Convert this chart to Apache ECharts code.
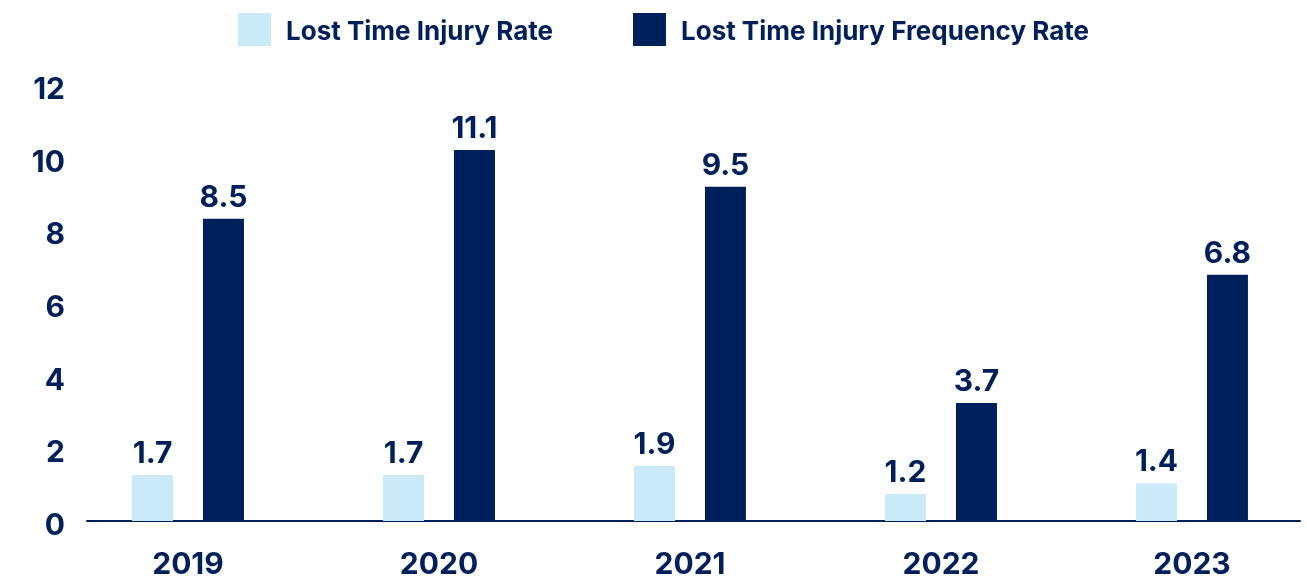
<!DOCTYPE html>
<html>
<head>
<meta charset="utf-8">
<script src="https://cdn.jsdelivr.net/npm/echarts@6/dist/echarts.min.js"></script>
<style>
html,body{margin:0;padding:0;background:#fff;}
#chart{width:1307px;height:582px;}
</style>
</head>
<body>
<div id="chart"></div>
<script>
// Categories
const years = ['2019', '2020', '2021', '2022', '2023'];
// Series names
const seriesNames = ['Lost Time Injury Rate', 'Lost Time Injury Frequency Rate'];
// Printed values (data labels)
const ltirLabels = [1.7, 1.7, 1.9, 1.2, 1.4];
const ltifrLabels = [8.5, 11.1, 9.5, 3.7, 6.8];
// Bar heights as drawn in the reference (read against the y axis)
const ltirHeights = [1.26, 1.26, 1.51, 0.74, 1.04];
const ltifrHeights = [8.3, 10.19, 9.18, 3.24, 6.76];
// Y axis ticks
const yTicks = [0, 2, 4, 6, 8, 10, 12];

const NAVY = '#00205B';
const LIGHT = '#CBEAF7';
const FONT = 'Inter';

const chart = echarts.init(document.getElementById('chart'), null, {renderer: 'canvas'});

function labelFor(arr) {
  return {
    show: true,
    position: 'top',
    distance: 6,
    color: NAVY,
    fontFamily: FONT,
    fontWeight: 700,
    fontSize: 30,
    formatter: p => arr[p.dataIndex].toFixed(1)
  };
}

chart.setOption({
  animation: false,
  backgroundColor: '#ffffff',
  legend: {
    left: 238,
    top: 13,
    padding: 0,
    itemWidth: 33,
    itemHeight: 33,
    itemGap: 80,
    icon: 'rect',
    formatter: name => '{t|' + name + '}',
    textStyle: {
      color: NAVY,
      fontFamily: FONT,
      fontWeight: 700,
      fontSize: 26,
      rich: {
        t: {
          color: NAVY,
          fontFamily: FONT,
          fontWeight: 700,
          fontSize: 26,
          padding: [6, 0, 0, 10]
        }
      }
    },
    data: seriesNames
  },
  grid: [
    {left: 188, right: 115, top: 84, bottom: 61},
    {left: 87, right: 7, top: 84, bottom: 61},
    {left: 87, right: 7, top: 90, bottom: 56}
  ],
  xAxis: [
    {
      gridIndex: 0,
      type: 'category',
      data: years,
      boundaryGap: false,
      axisLine: {show: false},
      axisTick: {show: false},
      axisLabel: {
        color: NAVY,
        fontFamily: FONT,
        fontWeight: 700,
        fontSize: 30,
        lineHeight: 30,
        margin: 29
      }
    },
    {
      gridIndex: 1,
      type: 'category',
      data: years,
      axisLine: {show: true, lineStyle: {color: NAVY, width: 2}},
      axisTick: {show: false},
      axisLabel: {show: false}
    },
    {
      gridIndex: 2,
      type: 'category',
      data: years,
      show: false
    }
  ],
  yAxis: [
    {
      gridIndex: 0,
      type: 'value',
      min: 0,
      max: 12,
      interval: 2,
      show: false
    },
    {
      gridIndex: 1,
      type: 'value',
      min: 0,
      max: 12,
      interval: 2,
      show: false
    },
    {
      gridIndex: 2,
      type: 'value',
      min: yTicks[0],
      max: yTicks[yTicks.length - 1],
      interval: 2,
      axisLine: {show: false},
      axisTick: {show: false},
      splitLine: {show: false},
      axisLabel: {
        color: NAVY,
        fontFamily: FONT,
        fontWeight: 700,
        fontSize: 30,
        margin: 22
      }
    }
  ],
  series: [
    {
      name: seriesNames[0],
      type: 'bar',
      xAxisIndex: 0,
      yAxisIndex: 0,
      clip: false,
      data: ltirHeights,
      barWidth: 41,
      barGap: '73%',
      itemStyle: {color: LIGHT},
      label: labelFor(ltirLabels)
    },
    {
      name: seriesNames[1],
      type: 'bar',
      xAxisIndex: 0,
      yAxisIndex: 0,
      clip: false,
      data: ltifrHeights,
      barWidth: 41,
      barGap: '73%',
      itemStyle: {color: NAVY},
      label: labelFor(ltifrLabels)
    }
  ]
});
</script>
</body>
</html>
